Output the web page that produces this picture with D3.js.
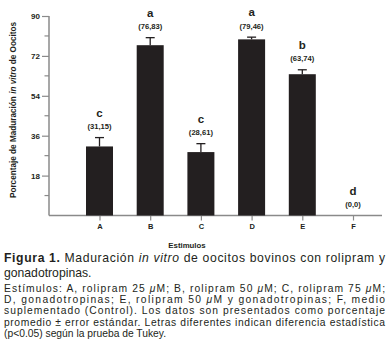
<!DOCTYPE html>
<html><head><meta charset="utf-8">
<script src="https://cdn.jsdelivr.net/npm/d3@7"></script>
<style>body{margin:0;background:#fff}svg{display:block}</style>
</head><body>
<svg id="c" width="389" height="364"></svg>
<script>
const categories = ["A","B","C","D","E","F"];
const values = [31.15, 76.83, 28.61, 79.46, 63.74, 0];
const errors = [4.0, 3.4, 3.8, 1.0, 2.0, 0];
const letters = ["c","a","c","a","b","d"];
const valueLabels = ["(31,15)","(76,83)","(28,61)","(79,46)","(63,74)","(0,0)"];
const yTicks = [18, 36, 54, 72, 90];
const yMinorTicks = [9, 27, 45, 63, 81];

const svg = d3.select("#c");
const ink = "#231f20";
const axisCol = "#8a8a8a";
const font = "Liberation Sans, Arial, Helvetica, sans-serif";

const y = d3.scaleLinear().domain([0, 90]).range([215.5, 16]);
const x = d3.scalePoint().domain(categories).range([99.5, 353]);
const barW = 27;

// axes
const gy = svg.append("g").attr("transform", "translate(49,0)")
  .call(d3.axisLeft(y).tickValues(yTicks).tickSize(7).tickSizeOuter(0).tickPadding(2));
gy.select(".domain").remove();
gy.append("line").attr("x1",0).attr("x2",0).attr("y1",y(90)).attr("y2",y(0)).attr("stroke",axisCol).attr("stroke-width",1.5);
gy.selectAll(".tick line").attr("stroke", axisCol).attr("stroke-width",1.2);
gy.selectAll(".tick text").attr("font-family", font).attr("font-weight","bold").attr("font-size", 8).attr("fill", ink);
gy.selectAll(".minor").data(yMinorTicks).enter().append("line")
  .attr("x1",-4.5).attr("x2",0).attr("y1",d=>y(d)).attr("y2",d=>y(d)).attr("stroke",axisCol).attr("stroke-width",1.2);

const gx = svg.append("g").attr("transform", `translate(0,${y(0)})`)
  .call(d3.axisBottom(x).tickSize(5).tickPadding(3));
gx.select(".domain").remove();
gx.append("line").attr("x1",49).attr("x2",382).attr("y1",0).attr("y2",0).attr("stroke",axisCol).attr("stroke-width",1.5);
gx.selectAll(".tick line").attr("stroke", axisCol).attr("stroke-width",1.2);
gx.selectAll(".tick text").attr("font-family", font).attr("font-weight","bold").attr("font-size", 7.5).attr("fill", ink);

// bars
const data = categories.map((c,i)=>({c, v: values[i], e: errors[i], l: letters[i], t: valueLabels[i]}));
svg.selectAll(".bar").data(data).enter().append("rect")
  .attr("x", d=>x(d.c)-barW/2).attr("width", barW)
  .attr("y", d=>y(d.v)).attr("height", d=>y(0)-y(d.v)).attr("fill", ink);

// error bars
const eb = svg.selectAll(".eb").data(data.filter(d=>d.v>0)).enter().append("g").attr("stroke", ink).attr("stroke-width",1.3);
eb.append("line").attr("x1",d=>x(d.c)).attr("x2",d=>x(d.c)).attr("y1",d=>y(d.v)).attr("y2",d=>y(d.v+d.e));
eb.append("line").attr("x1",d=>x(d.c)-4.5).attr("x2",d=>x(d.c)+4.5).attr("y1",d=>y(d.v+d.e)).attr("y2",d=>y(d.v+d.e));

// labels
svg.selectAll(".vl").data(data).enter().append("text")
  .attr("x", d=>x(d.c)).attr("y", d=>y(d.v+d.e)-11).attr("dy","0.35em")
  .attr("text-anchor","middle").attr("font-family",font).attr("font-weight","bold").attr("font-size",7.6).attr("fill",ink)
  .text(d=>d.t);
svg.selectAll(".lt").data(data).enter().append("text")
  .attr("x", d=>x(d.c)).attr("y", d=>y(d.v+d.e)-25).attr("dy","0.35em")
  .attr("text-anchor","middle").attr("font-family",font).attr("font-weight","bold").attr("font-size",11.5).attr("fill",ink)
  .text(d=>d.l);

// axis titles
const yt = svg.append("text").attr("transform","translate(13,110) rotate(-90)")
  .attr("text-anchor","middle").attr("dy","0.35em").attr("font-family",font).attr("font-weight","bold").attr("font-size",8.2).attr("fill",ink);
yt.append("tspan").text("Porcentaje de Maduración ");
yt.append("tspan").attr("font-style","italic").text("in vitro");
yt.append("tspan").text(" de Oocitos");

svg.append("text").attr("x",187).attr("y",245).attr("dy","0.35em").attr("text-anchor","middle")
  .attr("font-family",font).attr("font-weight","bold").attr("font-size",7.8).attr("fill",ink).text("Estimulos");

// caption
const cap1 = svg.append("text").attr("x",4).attr("y",261.5).attr("font-family",font).attr("font-size",12.2).attr("fill",ink)
  .attr("textLength",381).attr("lengthAdjust","spacing");
cap1.append("tspan").attr("font-weight","bold").text("Figura 1.");
cap1.append("tspan").text(" Maduración ");
cap1.append("tspan").attr("font-style","italic").text("in vitro");
cap1.append("tspan").text(" de oocitos bovinos con rolipram y");
svg.append("text").attr("x",4).attr("y",277).attr("font-family",font).attr("font-size",12.2).attr("fill",ink).text("gonadotropinas.");

const paraLines = [
  [["Estímulos: A, rolipram 25 ",0],["μ",1],["M; B, rolipram 50 ",0],["μ",1],["M; C, rolipram 75 ",0],["μ",1],["M;",0]],
  [["D, gonadotropinas; E, rolipram 50 ",0],["μ",1],["M y gonadotropinas; F, medio",0]],
  [["suplementado (Control). Los datos son presentados como porcentaje",0]],
  [["promedio ± error estándar. Letras diferentes indican diferencia estadística",0]],
  [["(p<0.05) según la prueba de Tukey.",0]]
];
paraLines.forEach((ln,i)=>{
  const t = svg.append("text").attr("x",4).attr("y",292 + i*11.2).attr("font-family",font).attr("font-size",10.3).attr("fill",ink);
  if (i < paraLines.length-1) t.attr("textLength",381).attr("lengthAdjust","spacing");
  ln.forEach(([s,it])=>{ const sp = t.append("tspan").text(s); if(it) sp.attr("font-style","italic"); });
});
</script>
</body></html>
